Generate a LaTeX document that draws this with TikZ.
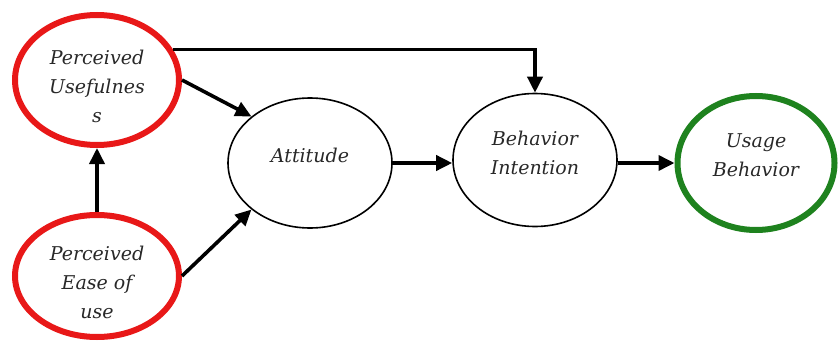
\documentclass[tikz,border=0pt]{standalone}
\usepackage{fontspec}
\setmainfont{DejaVu Serif}
\usetikzlibrary{shapes.geometric,arrows.meta}
\definecolor{tamred}{RGB}{232,24,24}
\definecolor{tamgreen}{RGB}{30,130,30}
\definecolor{inkgray}{RGB}{40,40,40}
\tikzset{
  construct/.style={ellipse, draw=black, line width=1.6pt, inner sep=0pt,
    minimum width=164pt, minimum height=130pt, align=center, text=inkgray,
    font=\fontsize{19}{29}\selectfont\itshape},
  external/.style={construct, draw=tamred, line width=6pt},
  outcome/.style={construct, draw=tamgreen, line width=6pt},
  textup/.style={text depth=15pt},
  textdown/.style={text height=85pt},
  link/.style={line width=3.6pt, -{Triangle[length=16pt,width=15pt]}}
}
\begin{document}
\begin{tikzpicture}[x=1pt,y=-1pt]
  \useasboundingbox (0,0) rectangle (840,345);
  \node[external, textdown] (pu)  at (97,80)   {Perceived\\Usefulnes\\s};
  \node[external, textdown, minimum height=122pt] (peu) at (97,276) {Perceived\\Ease of\\use};
  \node[construct, textup] (att) at (310,163) {Attitude};
  \node[construct, textup, minimum height=133pt] (bi) at (535,160) {Behavior\\Intention};
  \node[outcome, textup, minimum width=157pt, minimum height=134pt] (ub) at (756,163) {Usage\\Behavior};

  \draw[link] (peu.north) -- (pu.south);
  \draw[link] (pu.east) -- (att.north west);
  \draw[link] (peu.east) -- (att.south west);
  \draw[link] (pu.22) -| (bi.north);
  \draw[link] (att.east) -- (att.east -| bi.west);
  \draw[link] (bi.east |- att.east) -- (att.east -| ub.west);
\end{tikzpicture}
\end{document}
